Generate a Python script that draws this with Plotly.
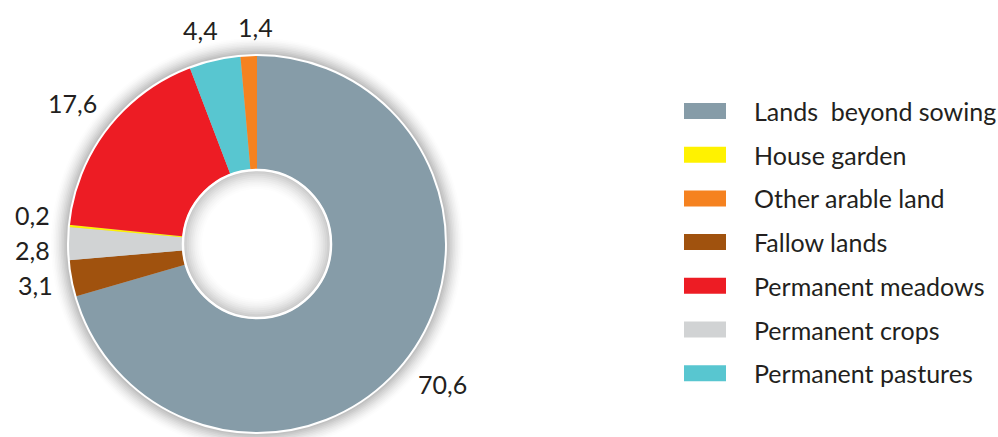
import numpy as np
import plotly.graph_objects as go

# Data (clockwise order from 12 o'clock, as drawn in the ring)
categories = ["Lands\u00a0 beyond sowing", "Fallow lands", "Permanent crops", "House garden",
              "Permanent meadows", "Permanent pastures", "Other arable land"]
values = [70.6, 3.1, 2.8, 0.2, 17.6, 4.4, 1.4]
value_labels = ["70,6", "3,1", "2,8", "0,2", "17,6", "4,4", "1,4"]
colors = ["#869ca8", "#a0520e", "#d1d3d4", "#fff200", "#ed1c24", "#58c6d0", "#f58220"]

# Legend order
legend_order = ["Lands\u00a0 beyond sowing", "House garden", "Other arable land", "Fallow lands",
                "Permanent meadows", "Permanent crops", "Permanent pastures"]

W, H = 998, 437
CX, CY, R = 257, 244, 189
RH = 75
FONT = "Lato, 'Open Sans', sans-serif"
TXT = "#231f20"
FS = 25


def circ(r, **kw):
    return dict(type="circle", xref="paper", yref="paper",
                x0=(CX - r) / W, x1=(CX + r) / W, y0=1 - (CY + r) / H, y1=1 - (CY - r) / H, **kw)


fig = go.Figure()
fig.add_trace(go.Pie(
    labels=categories, values=values, sort=False, direction="clockwise", rotation=0,
    hole=RH / R, marker=dict(colors=colors, line=dict(width=0)),
    textinfo="none", hoverinfo="label+value", showlegend=False,
    domain=dict(x=[(CX - R) / W, (CX + R) / W], y=[1 - (CY + R) / H, 1 - (CY - R) / H]),
))

shapes = []
# soft outer shadow (below the ring)
N = 10
for k in reversed(range(N)):
    r = R + 1 + (k + 1) * 1.6
    g = int(255 - 62 * (1 - k / N) ** 1.6)
    shapes.append(circ(r, fillcolor=f"rgb({g},{g},{g})", line=dict(width=0), layer="below"))
# inner shadow inside the hole (above)
for k in range(N + 1):
    r = RH - 1 - k * 1.9
    g = int(255 - 55 * (1 - k / N) ** 1.6)
    shapes.append(circ(r, fillcolor=f"rgb({g},{g},{g})", line=dict(width=0), layer="above"))
# white rims
shapes.append(circ(R, line=dict(color="white", width=2), layer="above"))
shapes.append(circ(RH - 1, line=dict(color="white", width=2.5), layer="above"))

# value labels placed outside each slice, from the slice mid-angles
vals = np.array(values)
frac = vals / vals.sum()
mid = 2 * np.pi * (np.cumsum(frac) - frac / 2)
pos, widths = [], []
for lab, th in zip(value_labels, mid):
    s, c = np.sin(th), np.cos(th)
    w = 0.58 * FS * sum(ch.isdigit() for ch in lab) + 0.23 * FS
    r = R + 18 + abs(s) * w / 2 + abs(c) * 18 / 2
    pos.append([CX + r * s, CY - r * c])
    widths.append(w)
pos = np.array(pos)

# simple overlap resolution between labels
PADX, HT = 20, 35
for _ in range(60):
    moved = False
    for i in range(len(pos)):
        for j in range(i + 1, len(pos)):
            dx, dy = pos[j] - pos[i]
            ox = (widths[i] + widths[j]) / 2 + PADX - abs(dx)
            oy = HT - abs(dy)
            if ox > 0 and oy > 0:
                moved = True
                if ox < oy:
                    sgn = 1 if dx >= 0 else -1
                    pos[i][0] -= sgn * ox / 2
                    pos[j][0] += sgn * ox / 2
                else:
                    sgn = 1 if dy >= 0 else -1
                    pos[i][1] -= sgn * oy / 2
                    pos[j][1] += sgn * oy / 2
    if not moved:
        break

annotations = []
for lab, (px, py) in zip(value_labels, pos):
    annotations.append(dict(x=px / W, y=1 - py / H, xref="paper", yref="paper",
                            text=lab, showarrow=False, xanchor="center", yanchor="middle",
                            font=dict(family=FONT, size=FS, color=TXT)))

# custom legend
color_of = dict(zip(categories, colors))
LX0, LX1, LY0, LDY, SH = 684, 726, 111, 43.7, 16
for i, name in enumerate(legend_order):
    yc = LY0 + i * LDY
    shapes.append(dict(type="rect", xref="paper", yref="paper",
                       x0=LX0 / W, x1=LX1 / W, y0=1 - (yc + SH / 2) / H, y1=1 - (yc - SH / 2) / H,
                       fillcolor=color_of[name], line=dict(width=0)))
    annotations.append(dict(x=752 / W, y=1 - yc / H, xref="paper", yref="paper",
                            text=name, showarrow=False, xanchor="left", yanchor="middle",
                            font=dict(family=FONT, size=FS, color=TXT)))

fig.update_layout(
    width=W, height=H, margin=dict(l=0, r=0, t=0, b=0),
    paper_bgcolor="white", plot_bgcolor="white",
    annotations=annotations, shapes=shapes, showlegend=False,
)
fig.write_html("out.html")
